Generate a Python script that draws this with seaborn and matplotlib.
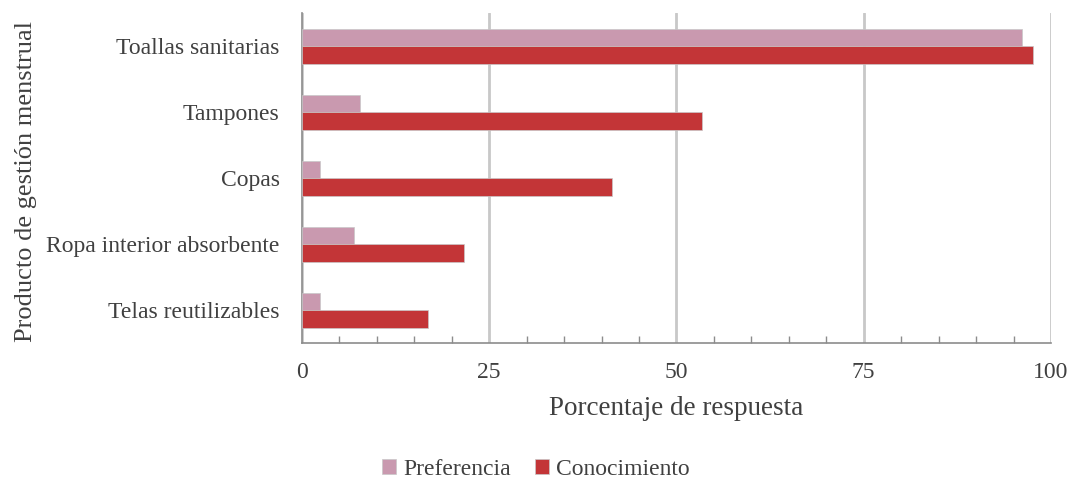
import pandas as pd
import matplotlib.pyplot as plt
import seaborn as sns
from matplotlib.ticker import MultipleLocator

# datos
productos = ['Toallas sanitarias', 'Tampones', 'Copas',
             'Ropa interior absorbente', 'Telas reutilizables']
preferencia = [96.1, 7.7, 2.4, 6.9, 2.4]
conocimiento = [97.6, 53.4, 41.4, 21.6, 16.8]
series = ['Preferencia', 'Conocimiento']
colores = ['#C999AF', '#C33537']

df = pd.DataFrame({
    'producto': productos * 2,
    'serie': [series[0]] * len(productos) + [series[1]] * len(productos),
    'valor': preferencia + conocimiento,
})

sns.set_theme(style="white")
plt.rcParams['font.family'] = ['Liberation Serif', 'DejaVu Serif']

fig = plt.figure(figsize=(10.72, 4.84), dpi=100)
ax = fig.add_axes([0.2817, 0.2913, 0.6987, 0.6818])

sns.barplot(data=df, y='producto', x='valor', hue='serie', orient='h',
            palette=colores, saturation=1, width=0.53, gap=0, ax=ax,
            edgecolor='#c8c8c8', linewidth=0.5, zorder=3)

ax.set_xlim(0, 100)
ax.set_ylim(4.5, -0.5)
ax.xaxis.set_major_locator(MultipleLocator(25))
ax.xaxis.set_minor_locator(MultipleLocator(5))
ax.grid(axis='x', which='major', color='#c8c8c8', linewidth=2, zorder=0)
ax.grid(axis='y', visible=False)

for lado in ['top', 'right']:
    ax.spines[lado].set_visible(False)
for lado in ['left', 'bottom']:
    ax.spines[lado].set_color('#8c8c8c')
    ax.spines[lado].set_linewidth(1.2)

ax.tick_params(axis='x', which='both', bottom=True, direction='in', colors='#8c8c8c',
               labelcolor='#404040', labelsize=17, pad=14)
ax.tick_params(axis='x', which='major', length=0)
ax.tick_params(axis='x', which='minor', length=5, width=1)
ax.tick_params(axis='y', length=0, labelsize=17, labelcolor='#404040', pad=16)

ax.set_xlabel('Porcentaje de respuesta', fontsize=19.5, color='#404040')
ax.set_ylabel('Producto de gestión menstrual', fontsize=19, color='#404040')
ax.xaxis.set_label_coords(0.5, -0.162)
ax.yaxis.set_label_coords(-0.354, 0.49)

ax.legend(loc='center', bbox_to_anchor=(0.5, 0.03), bbox_transform=fig.transFigure,
          ncol=2, frameon=False, fontsize=17, handlelength=0.6, handleheight=0.6,
          handletextpad=0.3, columnspacing=1.0, labelcolor='#404040',
          borderpad=0.1)

plt.savefig('out.png', dpi=100)
